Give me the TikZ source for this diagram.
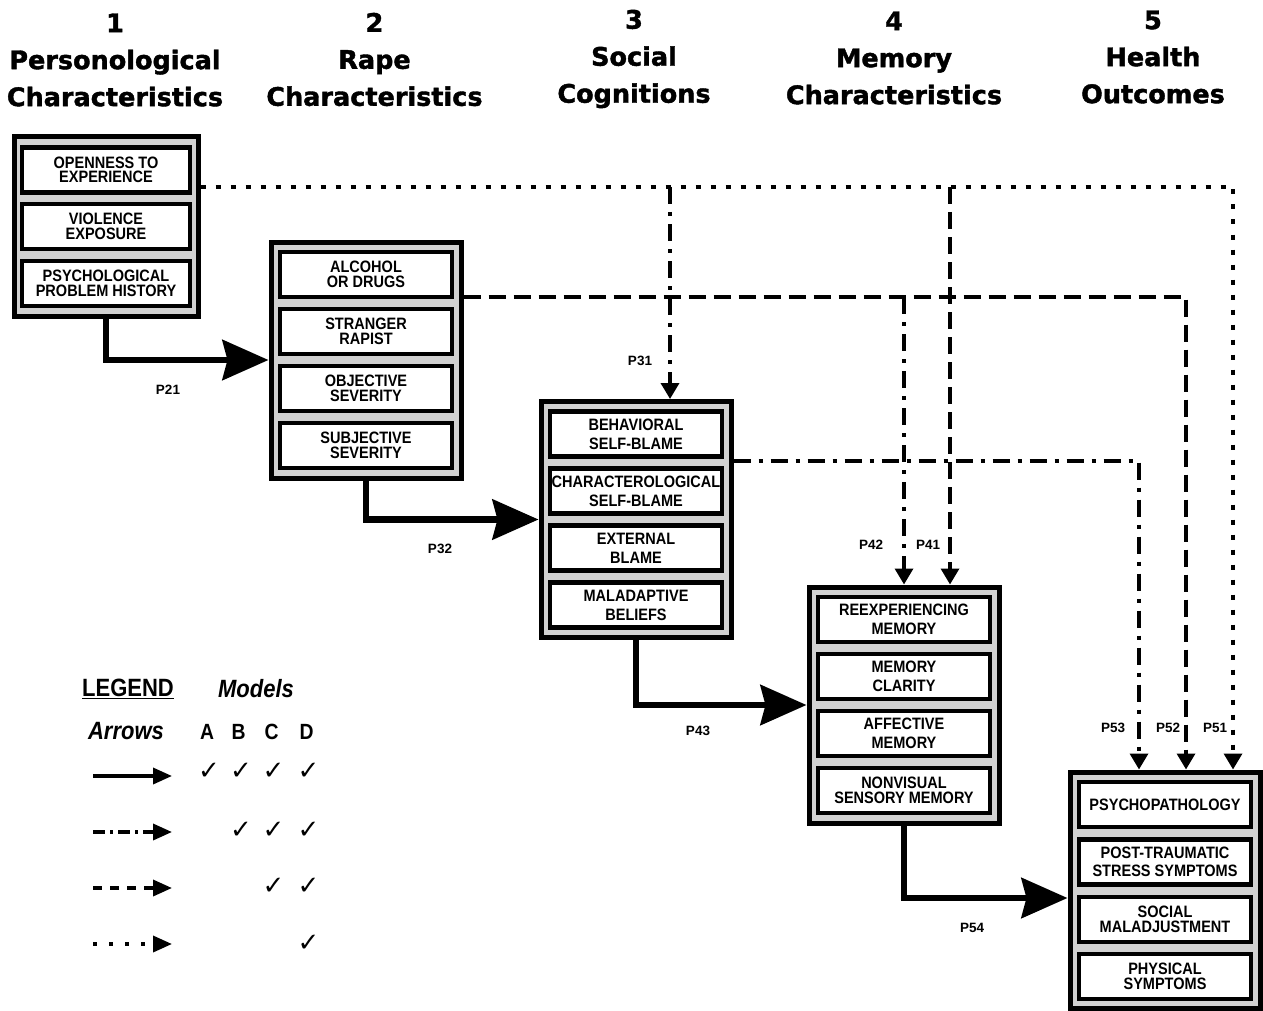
\documentclass[tikz,border=0pt]{standalone}
\usepackage{fontspec}
\usepackage{graphicx}
\setmainfont{Liberation Sans}
\newfontfamily\condfont[FakeStretch=0.88]{Liberation Sans}
\newfontfamily\hdrfont[BoldFeatures={FakeBold=1.6}]{DejaVu Sans}
\newfontfamily\symfont{DejaVu Sans}
\usetikzlibrary{arrows.meta}
\begin{document}
\begin{tikzpicture}[x=1pt,y=-1pt,
  frame/.style={draw=black, line width=5pt, fill=black!18, inner sep=0pt,
    minimum width=190pt, minimum height=236pt},
  ibox/.style={draw=black, line width=4.5pt, fill=white, inner sep=0pt,
    minimum width=172pt, minimum height=45pt, align=center},
  tight/.style={font=\condfont\fontsize{16.5}{14.5}\selectfont\bfseries},
  loose/.style={font=\condfont\fontsize{16.5}{19}\selectfont\bfseries},
  hdr/.style={font=\hdrfont\bfseries\fontsize{25.5}{37}\selectfont, align=center},
  plab/.style={font=\fontsize{13.5}{13.5}\selectfont\bfseries},
  solidarr/.style={line width=6.5pt, -{Stealth[length=46pt,width=40pt,inset=5pt]}},
  smallhead/.style={-{Triangle[length=16pt,width=18pt]}},
  dotln/.style={line width=3.5pt, dash pattern=on 5pt off 10pt},
  dashln/.style={line width=3.5pt, dash pattern=on 17pt off 8pt},
  ddln/.style={line width=3.5pt, dash pattern=on 17pt off 8pt on 4pt off 8pt},
  leghead/.style={-{Triangle[length=19pt,width=16pt]}},
  legsolid/.style={line width=3.5pt},
  legdd/.style={line width=3.5pt, dash pattern=on 12pt off 5pt on 3pt off 5pt},
  legdash/.style={line width=3.5pt, dash pattern=on 9pt off 8pt},
  legdot/.style={line width=3.5pt, dash pattern=on 4pt off 12pt},
  legtxt/.style={font=\condfont\fontsize{25}{25}\selectfont\bfseries},
  ck/.style={font=\symfont\fontsize{26}{26}\selectfont},
  abcd/.style={font=\condfont\fontsize{22}{22}\selectfont\bfseries}
]
\useasboundingbox (0,0) rectangle (1263,1011);
\fill[white] (0,0) rectangle (1263,1011);

% headers
\node[hdr] (h1) at (115,60) {1\\Personological\\Characteristics};
\node[hdr] (h2) at (374.5,59.5) {2\\Rape\\Characteristics};
\node[hdr] (h3) at (634,59) {3\\Social\\Cognitions};
\node[hdr] (h4) at (894,58) {4\\Memory\\Characteristics};
\node[hdr] (h5) at (1153,57) {5\\Health\\Outcomes};

% frames
\node[frame, minimum width=184pt, minimum height=179pt] (f1) at (106,226.5) {};
\node[frame] (f2) at (366,360) {};
\node[frame] (f3) at (636,519.5) {};
\node[frame] (f4) at (904,705) {};
\node[frame] (f5) at (1165,890) {};

% box 1
\node[ibox, tight, minimum width=168pt] (b11) at (106,170) {OPENNESS TO\\EXPERIENCE};
\node[ibox, tight, minimum width=168pt] (b12) at (106,226.5) {VIOLENCE\\EXPOSURE};
\node[ibox, tight, minimum width=168pt] (b13) at (106,283.5) {PSYCHOLOGICAL\\PROBLEM HISTORY};
% box 2
\node[ibox, tight] (b21) at (366,274.5) {ALCOHOL\\OR DRUGS};
\node[ibox, tight] (b22) at (366,331.5) {STRANGER\\RAPIST};
\node[ibox, tight] (b23) at (366,388.5) {OBJECTIVE\\SEVERITY};
\node[ibox, tight] (b24) at (366,445.5) {SUBJECTIVE\\SEVERITY};
% box 3
\node[ibox, loose] (b31) at (636,434) {BEHAVIORAL\\SELF-BLAME};
\node[ibox, loose] (b32) at (636,491) {CHARACTEROLOGICAL\\SELF-BLAME};
\node[ibox, loose] (b33) at (636,548) {EXTERNAL\\BLAME};
\node[ibox, loose] (b34) at (636,605) {MALADAPTIVE\\BELIEFS};
% box 4
\node[ibox, loose] (b41) at (904,619.5) {REEXPERIENCING\\MEMORY};
\node[ibox, loose] (b42) at (904,676.5) {MEMORY\\CLARITY};
\node[ibox, loose] (b43) at (904,733.5) {AFFECTIVE\\MEMORY};
\node[ibox, tight] (b44) at (904,790.5) {NONVISUAL\\SENSORY MEMORY};
% box 5
\node[ibox, tight] (b51) at (1165,804.5) {PSYCHOPATHOLOGY};
\node[ibox, font=\condfont\fontsize{16.5}{18}\selectfont\bfseries] (b52) at (1165,862) {POST-TRAUMATIC\\STRESS SYMPTOMS};
\node[ibox, tight] (b53) at (1165,919.5) {SOCIAL\\MALADJUSTMENT};
\node[ibox, tight] (b54) at (1165,976.5) {PHYSICAL\\SYMPTOMS};

% solid paths
\draw[solidarr] (f1.south) |- (f2.west);
\draw[solidarr] (f2.south) |- (f3.west);
\draw[solidarr] (f3.south) |- (f4.west);
\draw[solidarr] (f4.south) |- ([yshift=-8pt]f5.west);

% junctions on shared lines
\coordinate (j31) at (670,187);
\coordinate (j41) at (950,187);
\coordinate (j42) at (904,297);

% dotted P51
\draw[dotln, smallhead] (f1.east |- 0,187) -| (f5.north -| 1233,0);
% dashed P41 branch
\draw[dashln, smallhead] (j41) -- (f4.north -| j41);
% dash-dot P31 branch
\draw[ddln, smallhead] (j31) -- (f3.north -| j31);
% dashed P52
\draw[dashln, smallhead] (f2.east |- 0,297) -| (f5.north -| 1186,0);
% dash-dot P42 branch
\draw[ddln, smallhead] (j42) -- (f4.north -| j42);
% dash-dot P53
\draw[ddln, smallhead] (f3.east |- 0,461) -| (f5.north -| 1139,0);

% path labels
\node[plab] (p21) at (168,390) {P21};
\node[plab] (p32) at (440,549) {P32};
\node[plab] (p43) at (698,731) {P43};
\node[plab] (p54) at (972,928) {P54};
\node[plab] (p31) at (640,361) {P31};
\node[plab] (p42) at (871,545) {P42};
\node[plab] (p41) at (928,545) {P41};
\node[plab] (p53) at (1113,728) {P53};
\node[plab] (p52) at (1168,728) {P52};
\node[plab] (p51) at (1215,728) {P51};

% legend
\node[legtxt] (lg) at (128,689) {\underline{LEGEND}};
\node[legtxt] (lm) at (256,689) {\itshape Models};
\node[legtxt] (la) at (126,731) {\itshape Arrows};
\node[abcd] (cA) at (207,732) {A};
\node[abcd] (cB) at (238.5,732) {B};
\node[abcd] (cC) at (271.5,732) {C};
\node[abcd] (cD) at (306.5,732) {D};

\coordinate (l1s) at (93,776); \coordinate (l1e) at (172,776);
\coordinate (l2s) at (93,832); \coordinate (l2e) at (172,832);
\coordinate (l3s) at (93,888); \coordinate (l3e) at (172,888);
\coordinate (l4s) at (93,944); \coordinate (l4e) at (172,944);
\draw[legsolid, leghead] (l1s) -- (l1e);
\draw[legdd, leghead] (l2s) -- (l2e);
\draw[legdash, leghead] (l3s) -- (l3e);
\draw[legdot, leghead] (l4s) -- (l4e);

\node[ck] (k1a) at (209,771) {✓};
\node[ck] (k1b) at (241,771) {✓};
\node[ck] (k1c) at (273.5,771) {✓};
\node[ck] (k1d) at (308.5,771) {✓};
\node[ck] (k2b) at (241,830) {✓};
\node[ck] (k2c) at (273.5,830) {✓};
\node[ck] (k2d) at (308.5,830) {✓};
\node[ck] (k3c) at (273.5,886) {✓};
\node[ck] (k3d) at (308.5,886) {✓};
\node[ck] (k4d) at (308.5,943) {✓};
\end{tikzpicture}
\end{document}
